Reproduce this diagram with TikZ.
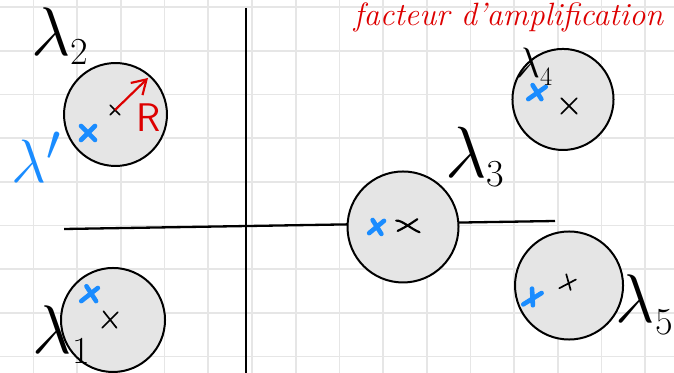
\documentclass[tikz,border=0pt]{standalone}
\usetikzlibrary{arrows.meta}
\definecolor{penblue}{HTML}{1A8CFF}
\definecolor{penred}{HTML}{DD0000}
\definecolor{paper}{HTML}{E6E6E6}
\begin{document}
\begin{tikzpicture}[
  gridline/.style={draw=paper,line width=1.1pt},
  axis/.style={line width=1.5pt},
  disc/.style={draw=black,line width=1.3pt,fill=black!10},
  blackx/.style={line width=1.1pt,line cap=round},
  bluex/.style={penblue,line width=3pt,line cap=round},
  lam/.style={font=\Huge,inner sep=0pt},
]
\useasboundingbox (0,0) rectangle (15.423,8.535);
\clip (0,0) rectangle (15.423,8.535);
\draw[gridline,shift={(0.767,0.375)}] (-1,-1) grid (15,9); %paper grid

% axes
\draw[axis] (5.629,8.352) -- (5.629,-0.2);
\draw[axis] (1.465,3.295) -- (12.70,3.478);

% discs of radius R
\draw[disc] (2.643,5.915) circle (1.178);
\draw[disc] (9.222,3.341) circle (1.27);
\draw[disc] (12.883,6.259) circle (1.156);
\draw[disc] (13.021,2.002) circle (1.236);
\draw[disc] (2.586,1.213) circle (1.19);

% centres
\coordinate (c2) at (2.632,6.018);
\draw[blackx] (c2) ++(-0.11,-0.11) -- ++(0.22,0.22) ++(-0.22,0) -- ++(0.22,-0.22);
\draw[blackx,line width=1.4pt] (9.336,3.387) ++(-0.27,0.1) .. controls (9.2,3.5) and (9.4,3.3) .. (9.6,3.22)
                (9.1,3.25) .. controls (9.3,3.35) and (9.45,3.45) .. (9.55,3.52);
\draw[blackx] (13.021,6.110) ++(-0.18,-0.18) -- ++(0.36,0.36) ++(-0.36,0) -- ++(0.36,-0.36);
\draw[blackx] (12.998,2.059) ++(-0.2,-0.12) -- ++(0.38,0.2) ++(-0.22,0.12) -- ++(0.1,-0.36);
\draw[blackx] (2.517,1.213) ++(-0.18,-0.18) -- ++(0.36,0.36) ++(-0.33,0.02) -- ++(0.3,-0.38);

% perturbed eigenvalues
\draw[bluex] (2.014,5.492) ++(-0.16,-0.16) -- ++(0.32,0.32) ++(-0.32,0) -- ++(0.32,-0.32);
\draw[bluex] (8.627,3.341) ++(-0.18,-0.14) -- ++(0.34,0.28) ++(-0.26,0.02) -- ++(0.2,-0.32);
\draw[bluex] (12.288,6.407) ++(-0.2,-0.14) -- ++(0.4,0.28) ++(-0.3,0.04) -- ++(0.2,-0.32);
\draw[bluex] (12.174,1.670) ++(-0.2,-0.1) -- ++(0.42,0.26) ++(-0.22,0.1) -- ++(0.02,-0.38);
\draw[bluex] (2.059,1.785) ++(-0.2,-0.14) -- ++(0.38,0.3) ++(-0.26,0.04) -- ++(0.22,-0.34);

% radius
\coordinate (r2) at (3.387,6.751);
\draw[penred,line width=1.4pt,-{Straight Barb[length=9pt,width=11pt]}] (c2) -- (r2);
\node[penred,font=\sffamily\fontsize{26}{26}\selectfont] (R) at (3.40,5.85) {R};

% labels
\node[lam] (l2) at (1.373,7.712) {\scalebox{1.8}{$\lambda$}\raisebox{-6pt}{2}};
\node[lam,penblue] (lp) at (0.847,4.943) {\scalebox{1.6}{$\lambda'$}};
\node[lam] (l3) at (10.87,4.943) {\scalebox{1.9}{$\lambda$}\raisebox{-6pt}{3}};
\node[lam,font=\LARGE] (l4) at (12.22,7.00) {\scalebox{1.6}{$\lambda$}\raisebox{-5pt}{4}};
\node[lam] (l5) at (14.74,1.556) {\scalebox{1.8}{$\lambda$}\raisebox{-8pt}{5}};
\node[lam] (l1) at (1.40,0.88) {\scalebox{1.8}{$\lambda$}\raisebox{-6pt}{1}};

% note at the top
\node[penred,anchor=base east,font=\itshape\fontsize{21}{21}\selectfont] (note) at (15.3,7.95) {facteur d'amplification};
\end{tikzpicture}
\end{document}
